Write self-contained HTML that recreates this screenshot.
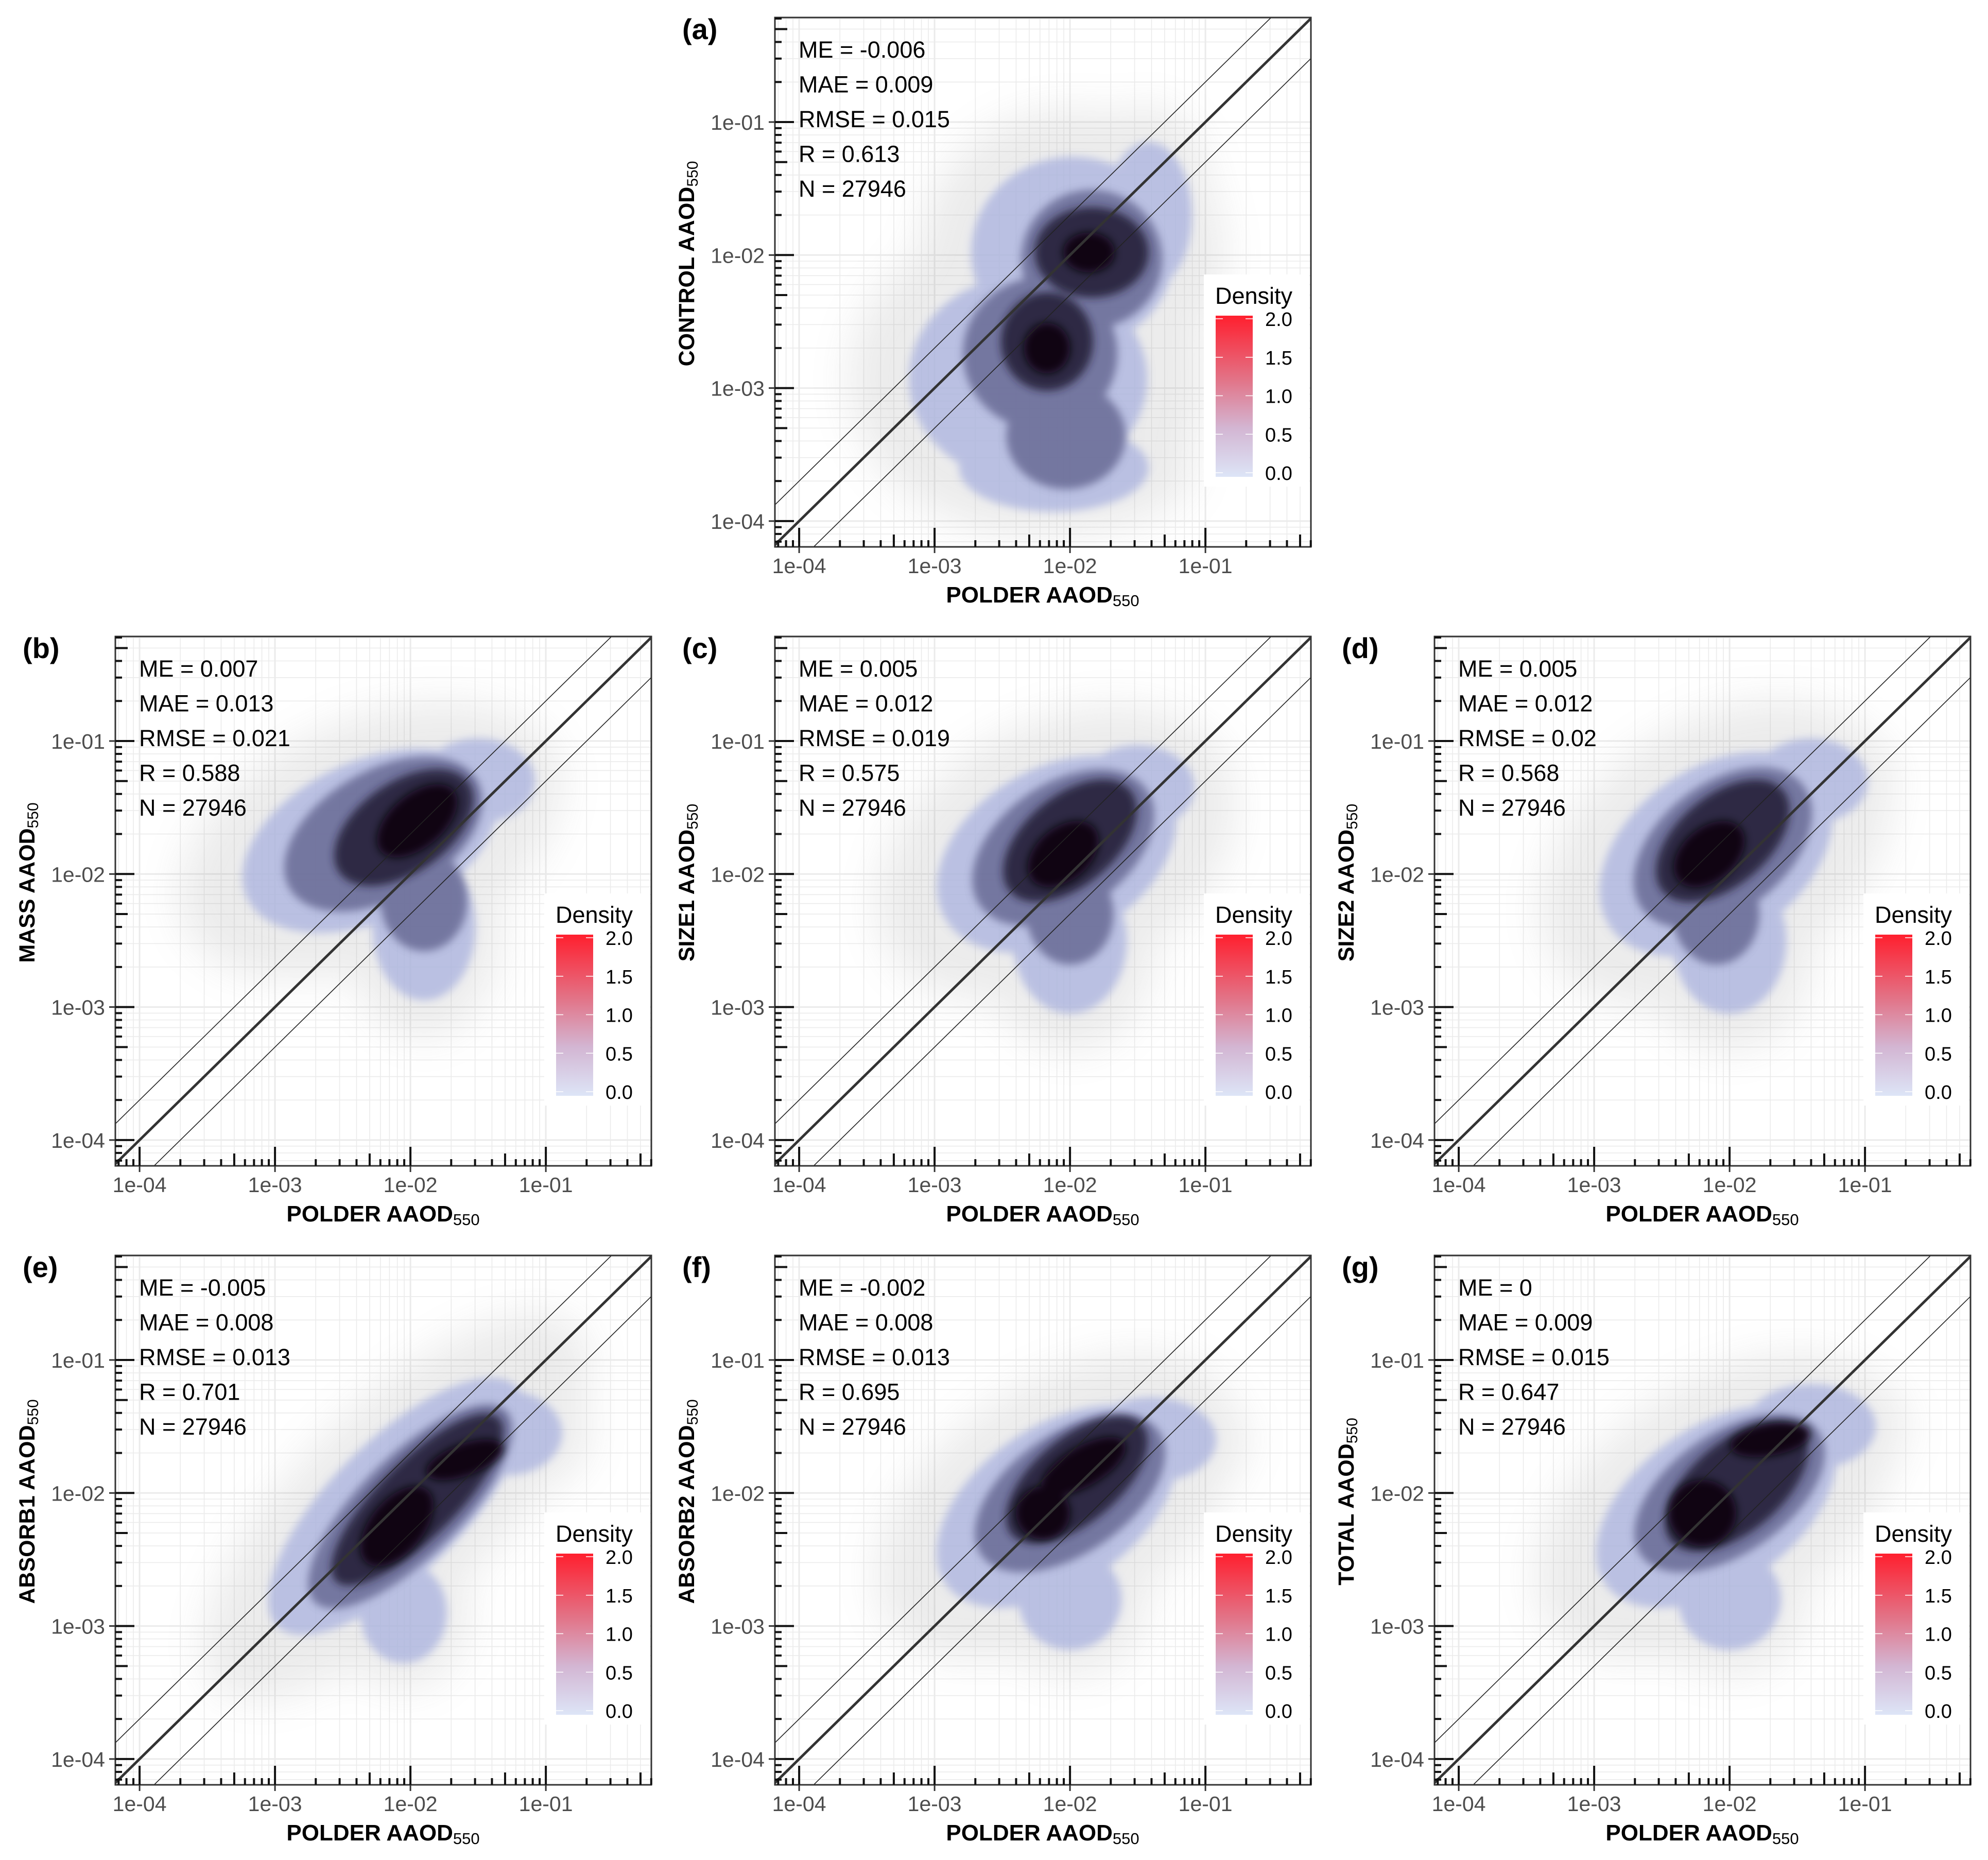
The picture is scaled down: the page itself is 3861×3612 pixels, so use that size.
<!DOCTYPE html>
<html><head><meta charset="utf-8"><style>
html,body{margin:0;padding:0;background:#fff;}
svg{display:block;font-family:"Liberation Sans",Arial,sans-serif;}
</style></head><body>
<svg id="fig" width="3861" height="3612" viewBox="0 0 3861 3612" xmlns="http://www.w3.org/2000/svg">
<defs>
<filter id="blurS" x="-50%" y="-50%" width="200%" height="200%"><feGaussianBlur stdDeviation="8"/></filter>
<filter id="blurL" x="-50%" y="-50%" width="200%" height="200%"><feGaussianBlur stdDeviation="40"/></filter>
<linearGradient id="cbar" x1="0" y1="1" x2="0" y2="0">
<stop offset="0" stop-color="#dde5f7"/><stop offset="0.3" stop-color="#d3b6d3"/><stop offset="0.6" stop-color="#e27488"/><stop offset="1" stop-color="#ff1f2e"/>
</linearGradient>
</defs>
</svg>
<script>
// ---- data ----
const panelLabels = ["(a)","(b)","(c)","(d)","(e)","(f)","(g)"];
const modelNames = ["CONTROL","MASS","SIZE1","SIZE2","ABSORB1","ABSORB2","TOTAL"];
const statME = ["-0.006","0.007","0.005","0.005","-0.005","-0.002","0"];
const statMAE = ["0.009","0.013","0.012","0.012","0.008","0.008","0.009"];
const statRMSE = ["0.015","0.021","0.019","0.02","0.013","0.013","0.015"];
const statR = ["0.613","0.588","0.575","0.568","0.701","0.695","0.647"];
const statN = ["27946","27946","27946","27946","27946","27946","27946"];
const axisTickLabels = ["1e-04","1e-03","1e-02","1e-01"];
const axisTickExp = [-4,-3,-2,-1];
const legendTicks = [0,0.5,1,1.5,2];
const legendTickLabels = ["0.0","0.5","1.0","1.5","2.0"];
// density blobs per panel: [logx, logy, rx(dec), ry(dec), rot(deg)], by level
const blobsL0 = [
 [[-1.98,-1.98,0.75,0.72,0],[-2.31,-2.93,0.88,0.78,0],[-2.12,-3.6,0.7,0.33,0],[-1.42,-1.7,0.32,0.55,0]],
 [[-2.3,-1.75,1.0,0.6,25],[-1.9,-2.4,0.38,0.55,0],[-1.5,-1.3,0.42,0.32,0]],
 [[-2.1,-1.85,0.95,0.65,30],[-2.0,-2.5,0.42,0.55,0],[-1.5,-1.35,0.42,0.32,0]],
 [[-2.1,-1.85,0.95,0.65,35],[-2.0,-2.5,0.42,0.55,0],[-1.4,-1.3,0.42,0.32,0]],
 [[-2.1,-2.1,1.25,0.5,45],[-2.05,-2.9,0.32,0.38,0],[-1.3,-1.55,0.42,0.32,0]],
 [[-2.1,-2.1,1.0,0.6,35],[-2.0,-2.8,0.38,0.38,0],[-1.4,-1.6,0.48,0.32,0]],
 [[-2.1,-2.1,1.0,0.6,35],[-2.0,-2.8,0.38,0.38,0],[-1.4,-1.5,0.48,0.32,0]]
];
const blobsL1 = [
 [[-1.84,-2.03,0.52,0.52,0],[-2.22,-2.74,0.57,0.57,0],[-2.03,-3.36,0.44,0.4,0]],
 [[-2.2,-1.7,0.8,0.48,30],[-1.9,-2.2,0.32,0.38,0]],
 [[-2.05,-1.8,0.75,0.48,35],[-2.0,-2.3,0.32,0.38,0]],
 [[-2.05,-1.8,0.75,0.48,38],[-2.1,-2.3,0.32,0.38,0]],
 [[-2.0,-2.1,1.0,0.38,45]],
 [[-2.0,-2.0,0.8,0.45,35]],
 [[-2.0,-2.0,0.8,0.45,35]]
];
const blobsL2 = [
 [[-1.84,-1.98,0.42,0.34,0],[-2.17,-2.65,0.34,0.37,0]],
 [[-2.05,-1.65,0.58,0.34,35]],
 [[-2.0,-1.75,0.58,0.34,40]],
 [[-2.05,-1.75,0.58,0.34,40]],
 [[-1.95,-2.05,0.85,0.29,45]],
 [[-1.95,-1.9,0.63,0.32,40]],
 [[-1.95,-1.95,0.63,0.34,40]]
];
const blobsL3 = [
 [[-1.86,-1.98,0.19,0.15,0],[-2.17,-2.7,0.17,0.19,0]],
 [[-1.95,-1.6,0.35,0.2,40]],
 [[-2.05,-1.85,0.3,0.2,40]],
 [[-2.15,-1.85,0.3,0.2,40]],
 [[-2.1,-2.25,0.35,0.2,50],[-1.6,-1.75,0.3,0.12,20]],
 [[-1.9,-1.8,0.35,0.15,30],[-2.2,-2.15,0.2,0.2,0]],
 [[-2.2,-2.15,0.25,0.25,0],[-1.7,-1.6,0.3,0.12,10]]
];
// ---- layout ----
const colX = [224,1505,2786], rowY = [34,1236,2438];
const panelPos = [[1,0],[0,1],[1,1],[2,1],[0,2],[1,2],[2,2]];
const W = 1041, H = 1028;
const XMIN = -4.179, XMAX = -0.221, YMIN = -4.194, YMAX = -0.214;
const NS = "http://www.w3.org/2000/svg";
const svg = document.getElementById('fig');
function mk(tag, attrs, parent){ const e = document.createElementNS(NS, tag); for (const k in attrs) e.setAttribute(k, attrs[k]); (parent||svg).appendChild(e); return e; }
const levelStyles = [["#aeb6e0",0.8],["#5d5f8a",0.75],["#221c35",0.85],["#0a0510",0.9]];
const levelData = [blobsL0, blobsL1, blobsL2, blobsL3];

panelPos.forEach((pp, i) => {
  const px = colX[pp[0]], py = rowY[pp[1]];
  const xs = v => px + (v - XMIN) / (XMAX - XMIN) * W;
  const ys = v => py + H - (v - YMIN) / (YMAX - YMIN) * H;
  const g = mk('g', {});
  
  
  const cid = 'clip' + i;
  const cp = mk('clipPath', {id: cid}, g); mk('rect', {x:px, y:py, width:W, height:H}, cp);
  const grid = mk('g', {}, g);
  
  
  for (let e = -5; e <= 0; e++) for (let m = 1; m <= 9; m++) {
    const v = e + Math.log10(m);
    const sw = m === 1 ? 3 : 1.6;
    if (v > XMIN && v < XMAX) mk('line', {x1:xs(v), x2:xs(v), y1:py, y2:py+H, stroke:'#ebebeb', 'stroke-width':sw}, grid);
    if (v > YMIN && v < YMAX) mk('line', {x1:px, x2:px+W, y1:ys(v), y2:ys(v), stroke:'#ebebeb', 'stroke-width':sw}, grid);
  }
  const dens = mk('g', {'clip-path':'url(#'+cid+')'}, g);
  
  
  const halo = mk('g', {opacity:0.14, filter:'url(#blurL)'}, dens);
  blobsL0[i].forEach(b => { mk('ellipse', {cx:xs(b[0]), cy:ys(b[1]), rx:b[2]*263*1.5, ry:b[3]*258*1.5, fill:'#777', transform:`rotate(${-b[4]} ${xs(b[0])} ${ys(b[1])})`}, halo); });
  levelData.forEach((L, li) => {
    const lg = mk('g', {opacity:levelStyles[li][1], filter:'url(#blurS)'}, dens);
    L[i].forEach(b => {
      const el = mk('ellipse', {cx:xs(b[0]), cy:ys(b[1]), rx:b[2]*263, ry:b[3]*258, fill:levelStyles[li][0], transform:`rotate(${-b[4]} ${xs(b[0])} ${ys(b[1])})`}, lg);
      
      
    });
  });
  const lines = mk('g', {'clip-path':'url(#'+cid+')'}, g);
  [[0,5,'#333'],[Math.log10(2),1.6,'#222'],[-Math.log10(2),1.6,'#222']].forEach((d, k) => {
    const l = mk('line', {x1:xs(-5), y1:ys(-5+d[0]), x2:xs(1), y2:ys(1+d[0]), stroke:d[2], 'stroke-width':d[1]}, lines);
    
    
  });
  const lgd = mk('g', {}, g);
  
  
  mk('rect', {x:px+833, y:py+499, width:W-833-3, height:412, fill:'#fff'}, lgd);
  const lt = mk('text', {x:px+855, y:py+556, 'font-size':45, fill:'#000'}, lgd); lt.textContent = 'Density';
   
  mk('rect', {x:px+856, y:py+579, width:72, height:313, fill:'url(#cbar)'}, lgd);
  const cb0 = py+884, cb2 = py+585;
  legendTicks.forEach((t, k) => {
    const yy = cb0 + (cb2 - cb0) * t / 2;
    mk('line', {x1:px+856, x2:px+870, y1:yy, y2:yy, stroke:'#fff', 'stroke-width':1.5}, lgd);
    mk('line', {x1:px+914, x2:px+928, y1:yy, y2:yy, stroke:'#fff', 'stroke-width':1.5}, lgd);
    const tl = mk('text', {x:px+952, y:yy+14, 'font-size':38, fill:'#000'}, lgd); tl.textContent = legendTickLabels[k];
     
  });
  mk('rect', {x:px, y:py, width:W, height:H, fill:'none', stroke:'#333', 'stroke-width':3}, g);
  const tk = mk('g', {stroke:'#111', 'stroke-width':4}, g);
   
  for (let e = -5; e <= 0; e++) for (let m = 1; m <= 9; m++) {
    const v = e + Math.log10(m);
    const len = m === 1 ? 37 : (m === 5 ? 24 : 13);
    if (v > XMIN && v < XMAX) mk('line', {x1:xs(v), x2:xs(v), y1:py+H, y2:py+H-len}, tk);
    if (v > YMIN && v < YMAX) mk('line', {x1:px, x2:px+len, y1:ys(v), y2:ys(v)}, tk);
  }
  axisTickExp.forEach((e, k) => {
    mk('line', {x1:xs(e), x2:xs(e), y1:py+H, y2:py+H+12, stroke:'#333', 'stroke-width':3}, g);
    mk('line', {x1:px-12, x2:px, y1:ys(e), y2:ys(e), stroke:'#333', 'stroke-width':3}, g);
    const xl = mk('text', {x:xs(e), y:py+H+51, 'font-size':41, fill:'#4d4d4d', 'text-anchor':'middle'}, g); xl.textContent = axisTickLabels[k];
     
    const yl = mk('text', {x:px-20, y:ys(e)+15, 'font-size':41, fill:'#4d4d4d', 'text-anchor':'end'}, g); yl.textContent = axisTickLabels[k];
     
  });
  const xt = mk('text', {x:px+520, y:py+H+108, 'font-size':44, 'font-weight':'bold', fill:'#000', 'text-anchor':'middle'}, g);
  xt.innerHTML = 'POLDER AAOD<tspan font-size="31" font-weight="normal" dy="7">550</tspan>';
   
  const yt = mk('text', {x:0, y:0, 'font-size':43, 'font-weight':'bold', fill:'#000', 'text-anchor':'middle', transform:`translate(${px-157} ${py+478}) rotate(-90)`}, g);
  yt.innerHTML = modelNames[i] + ' AAOD<tspan font-size="30" font-weight="normal" dy="7">550</tspan>';
   
  const pl = mk('text', {x:px-180, y:py+42, 'font-size':56, 'font-weight':'bold', fill:'#000'}, g); pl.textContent = panelLabels[i];
   
  const st = ['ME = ' + statME[i], 'MAE = ' + statMAE[i], 'RMSE = ' + statRMSE[i], 'R = ' + statR[i], 'N = ' + statN[i]];
  st.forEach((s, k) => {
    const t = mk('text', {x:px+46, y:py+78+k*67.5, 'font-size':45, fill:'#000'}, g); t.textContent = s;
     
  });
});
</script>
</body></html>
